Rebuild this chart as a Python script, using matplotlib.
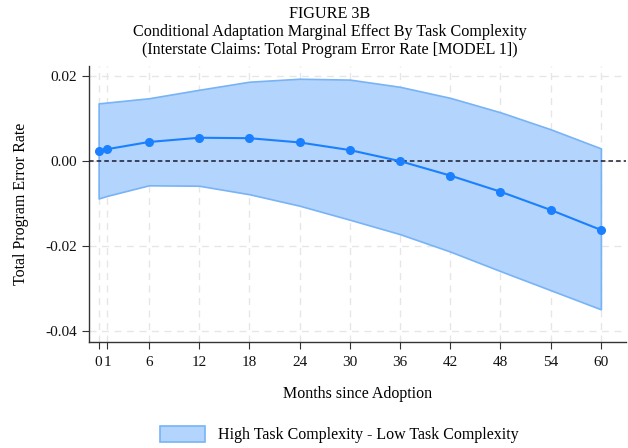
import matplotlib
matplotlib.use("Agg")
import matplotlib.pyplot as plt
from matplotlib.patches import Patch

months = [0, 1, 6, 12, 18, 24, 30, 36, 42, 48, 54, 60]
effect = [0.0024, 0.0028, 0.0045, 0.0055, 0.0054, 0.0044, 0.0026, 0.0000,
          -0.0034, -0.0072, -0.0115, -0.0162]
upper = [0.0136, 0.0138, 0.0148, 0.0168, 0.0187, 0.0194, 0.0192, 0.0175,
         0.0149, 0.0115, 0.0075, 0.0030]
lower = [-0.0088, -0.0082, -0.0057, -0.0058, -0.0078, -0.0105, -0.0138, -0.0172,
         -0.0213, -0.0259, -0.0304, -0.0349]
yticks = [0.02, 0.00, -0.02, -0.04]
ytick_labels = ["0.02", "0.00", "-0.02", "-0.04"]
xtick_labels = ["0", "1", "6", "12", "18", "24", "30", "36", "42", "48", "54", "60"]

plt.rcParams["font.family"] = ["Liberation Serif", "DejaVu Serif"]

fig = plt.figure(figsize=(6.28, 4.48), dpi=100)
ax = fig.add_axes([89 / 628, 1 - 342 / 448, (626 - 89) / 628, (342 - 66) / 448])

fill_color = "#b3d4fc"
edge_color = "#78b3f6"
line_color = "#1a80ff"

ax.fill_between(months, lower, upper, facecolor=fill_color, edgecolor=edge_color,
                linewidth=1.2, zorder=2)
ax.plot(months, effect, color=line_color, linewidth=1.5, marker="o",
        markersize=5.5, zorder=4)
ax.axhline(0, color="#1a1a2e", linestyle=(0, (3, 2)), linewidth=1.1, zorder=3)

ax.set_xlim(-1.15, 63)
ax.set_ylim(-0.0426, 0.0224)
ax.set_xticks(months)
ax.set_xticklabels(xtick_labels)
ax.set_yticks(yticks)
ax.set_yticklabels(ytick_labels)

ax.grid(True, color="#e6e6e6", linestyle=(0, (5, 4)), linewidth=1.0, zorder=0)
ax.set_axisbelow(True)
for side in ("top", "right"):
    ax.spines[side].set_visible(False)
for side in ("left", "bottom"):
    ax.spines[side].set_color("#333333")
    ax.spines[side].set_linewidth(1.0)
ax.tick_params(axis="both", colors="#333333", labelcolor="#111111", labelsize=11,
               length=5)
ax.tick_params(axis="x", pad=5)

ax.set_xlabel("Months since Adoption", fontsize=11.5, labelpad=12)
ax.set_ylabel("Total Program Error Rate", fontsize=11.5, labelpad=12)

fig.text(0.525, 0.987, "FIGURE 3B\nConditional Adaptation Marginal Effect By Task Complexity\n"
         "(Interstate Claims: Total Program Error Rate [MODEL 1])",
         ha="center", va="top", fontsize=11.6, linespacing=1.18)

handle = Patch(facecolor=fill_color, edgecolor=edge_color, linewidth=1.2)
fig.legend([handle], ["High Task Complexity - Low Task Complexity"],
           loc="center", bbox_to_anchor=(0.54, 0.03), frameon=False, fontsize=11.5,
           handlelength=2.8, handleheight=1.2)

fig.savefig("out.png", dpi=100)
